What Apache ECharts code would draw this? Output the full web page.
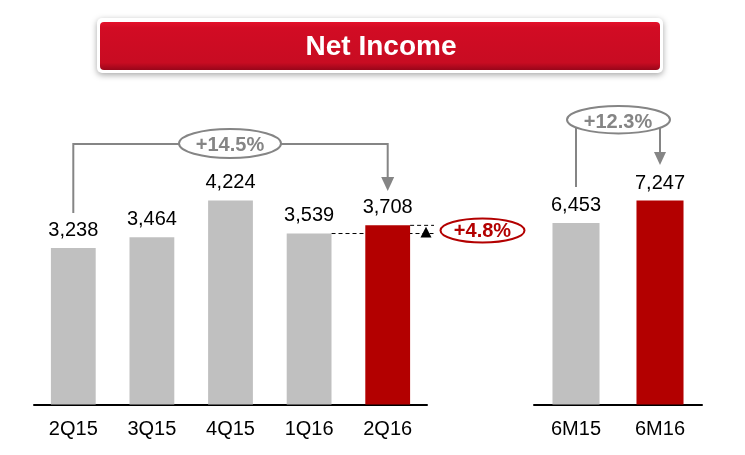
<!DOCTYPE html>
<html>
<head>
<meta charset="utf-8">
<script src="https://cdn.jsdelivr.net/npm/echarts@6/dist/echarts.min.js"></script>
<style>
html,body{margin:0;padding:0;background:#fff;}
#c{width:745px;height:455px;}
</style>
</head>
<body>
<div id="c"></div>
<script>
// ---- data ----
const quarterCats = ['2Q15', '3Q15', '4Q15', '1Q16', '2Q16'];
const quarterVals = [3238, 3464, 4224, 3539, 3708];
const halfCats = ['6M15', '6M16'];
const halfVals = [6453, 7247];
const title = 'Net Income';
const growthQoQYoY = '+14.5%';   // 2Q15 -> 2Q16
const growthQoQ = '+4.8%';       // 1Q16 -> 2Q16
const growthHalf = '+12.3%';     // 6M15 -> 6M16

const GRAY = '#c0c0c0';
const RED = '#b30000';
const FONT = '"Liberation Sans", Arial, sans-serif';

const chart = echarts.init(document.getElementById('c'), null, {renderer: 'canvas'});

function colored(vals) {
  return vals.map((v, i) => ({
    value: v,
    itemStyle: {color: i === vals.length - 1 ? RED : GRAY}
  }));
}
const fmt = p => Number(p.value).toLocaleString('en-US');

chart.setOption({
  animation: false,
  grid: [
    {left: 34, width: 393, top: 18, bottom: 50.5},
    {left: 534, width: 168, top: 10.5, bottom: 50.5}
  ],
  xAxis: [
    {type: 'category', gridIndex: 0, data: quarterCats,
     axisLine: {lineStyle: {color: '#000', width: 2}}, axisTick: {show: false},
     axisLabel: {color: '#000', fontSize: 20, fontFamily: FONT, margin: 15}},
    {type: 'category', gridIndex: 1, data: halfCats,
     axisLine: {lineStyle: {color: '#000', width: 2}}, axisTick: {show: false},
     axisLabel: {color: '#000', fontSize: 20, fontFamily: FONT, margin: 15}}
  ],
  yAxis: [
    {type: 'value', gridIndex: 0, min: 0, max: 8000, show: false, splitLine: {show: false}},
    {type: 'value', gridIndex: 1, min: 0, max: 14000, show: false, splitLine: {show: false}}
  ],
  series: [
    {type: 'bar', xAxisIndex: 0, yAxisIndex: 0, data: colored(quarterVals), barWidth: '57%',
     label: {show: true, position: 'top', distance: 8, color: '#000', fontSize: 20, fontFamily: FONT, formatter: fmt}},
    {type: 'bar', xAxisIndex: 1, yAxisIndex: 1, data: colored(halfVals), barWidth: '56%',
     label: {show: true, position: 'top', distance: 7, color: '#000', fontSize: 20, fontFamily: FONT, formatter: fmt}}
  ]
});

// ---- annotations anchored to data positions ----
function px(grid, cat, val) { return chart.convertToPixel({gridIndex: grid}, [cat, val]); }
const barHalfQ = 393 / quarterCats.length * 0.57 / 2;

const q0 = px(0, quarterCats[0], quarterVals[0]);
const q3 = px(0, quarterCats[3], quarterVals[3]);
const q4 = px(0, quarterCats[4], quarterVals[4]);
const h0 = px(1, halfCats[0], halfVals[0]);
const h1 = px(1, halfCats[1], halfVals[1]);

const GREY_LINE = '#858585';
const graphics = [];

// title banner
graphics.push({
  type: 'rect', shape: {x: 97, y: 18, width: 566, height: 55, r: 5},
  style: {fill: '#fff', shadowBlur: 6, shadowColor: 'rgba(0,0,0,0.35)', shadowOffsetY: 2}
});
graphics.push({
  type: 'rect', shape: {x: 100, y: 22, width: 560, height: 48, r: 4},
  style: {fill: new echarts.graphic.LinearGradient(0, 0, 0, 1, [
    {offset: 0, color: '#e5102a'}, {offset: 0.12, color: '#d20c24'},
    {offset: 0.85, color: '#c80c22'}, {offset: 1, color: '#98061a'}])}
});
graphics.push({
  type: 'text', x: 381, y: 47,
  style: {text: title, fill: '#fff', font: 'bold 28px ' + FONT, align: 'center', verticalAlign: 'middle'}
});

// +14.5% bracket
const yB = 144;
graphics.push({type: 'polyline', shape: {points: [[q0[0], 213], [q0[0], yB], [180, yB]]},
  style: {stroke: GREY_LINE, lineWidth: 2, fill: null}});
graphics.push({type: 'polyline', shape: {points: [[280, yB], [q4[0], yB], [q4[0], 178]]},
  style: {stroke: GREY_LINE, lineWidth: 2, fill: null}});
graphics.push({type: 'polygon', shape: {points: [[q4[0] - 6.5, 177], [q4[0] + 6.5, 177], [q4[0], 191]]},
  style: {fill: GREY_LINE}});
graphics.push({type: 'ellipse', shape: {cx: 230, cy: 143.5, rx: 51, ry: 14.5},
  style: {stroke: GREY_LINE, lineWidth: 2, fill: '#fff'}});
graphics.push({type: 'text', x: 230, y: 145,
  style: {text: growthQoQYoY, fill: GREY_LINE, font: 'bold 20px ' + FONT, align: 'center', verticalAlign: 'middle'}});

// +4.8% markers
const xEnd = 434;
graphics.push({type: 'line', shape: {x1: q3[0] + barHalfQ, y1: q3[1], x2: xEnd, y2: q3[1]},
  style: {stroke: '#000', lineWidth: 1, lineDash: [4, 3]}});
graphics.push({type: 'line', shape: {x1: q4[0] + barHalfQ, y1: q4[1], x2: xEnd, y2: q4[1]},
  style: {stroke: '#000', lineWidth: 1, lineDash: [4, 3]}});
graphics.push({type: 'polygon', shape: {points: [[426, q4[1] + 1.5], [420.5, q3[1] + 4], [431.5, q3[1] + 4]]},
  style: {fill: '#000'}});
graphics.push({type: 'ellipse', shape: {cx: 482.5, cy: 230.5, rx: 42, ry: 12},
  style: {stroke: RED, lineWidth: 2, fill: '#fff'}});
graphics.push({type: 'text', x: 482.5, y: 231.5,
  style: {text: growthQoQ, fill: RED, font: 'bold 20px ' + FONT, align: 'center', verticalAlign: 'middle'}});

// +12.3% bracket
graphics.push({type: 'line', shape: {x1: h0[0], y1: 187, x2: h0[0], y2: 128},
  style: {stroke: GREY_LINE, lineWidth: 2}});
graphics.push({type: 'line', shape: {x1: h1[0], y1: 128, x2: h1[0], y2: 153},
  style: {stroke: GREY_LINE, lineWidth: 2}});
graphics.push({type: 'polygon', shape: {points: [[h1[0] - 6, 152], [h1[0] + 6, 152], [h1[0], 165]]},
  style: {fill: GREY_LINE}});
graphics.push({type: 'ellipse', shape: {cx: 618.5, cy: 119.7, rx: 51.5, ry: 13.7},
  style: {stroke: GREY_LINE, lineWidth: 2, fill: '#fff'}});
graphics.push({type: 'text', x: 618, y: 122,
  style: {text: growthHalf, fill: GREY_LINE, font: 'bold 20px ' + FONT, align: 'center', verticalAlign: 'middle'}});

chart.setOption({graphic: graphics});
</script>
</body>
</html>
